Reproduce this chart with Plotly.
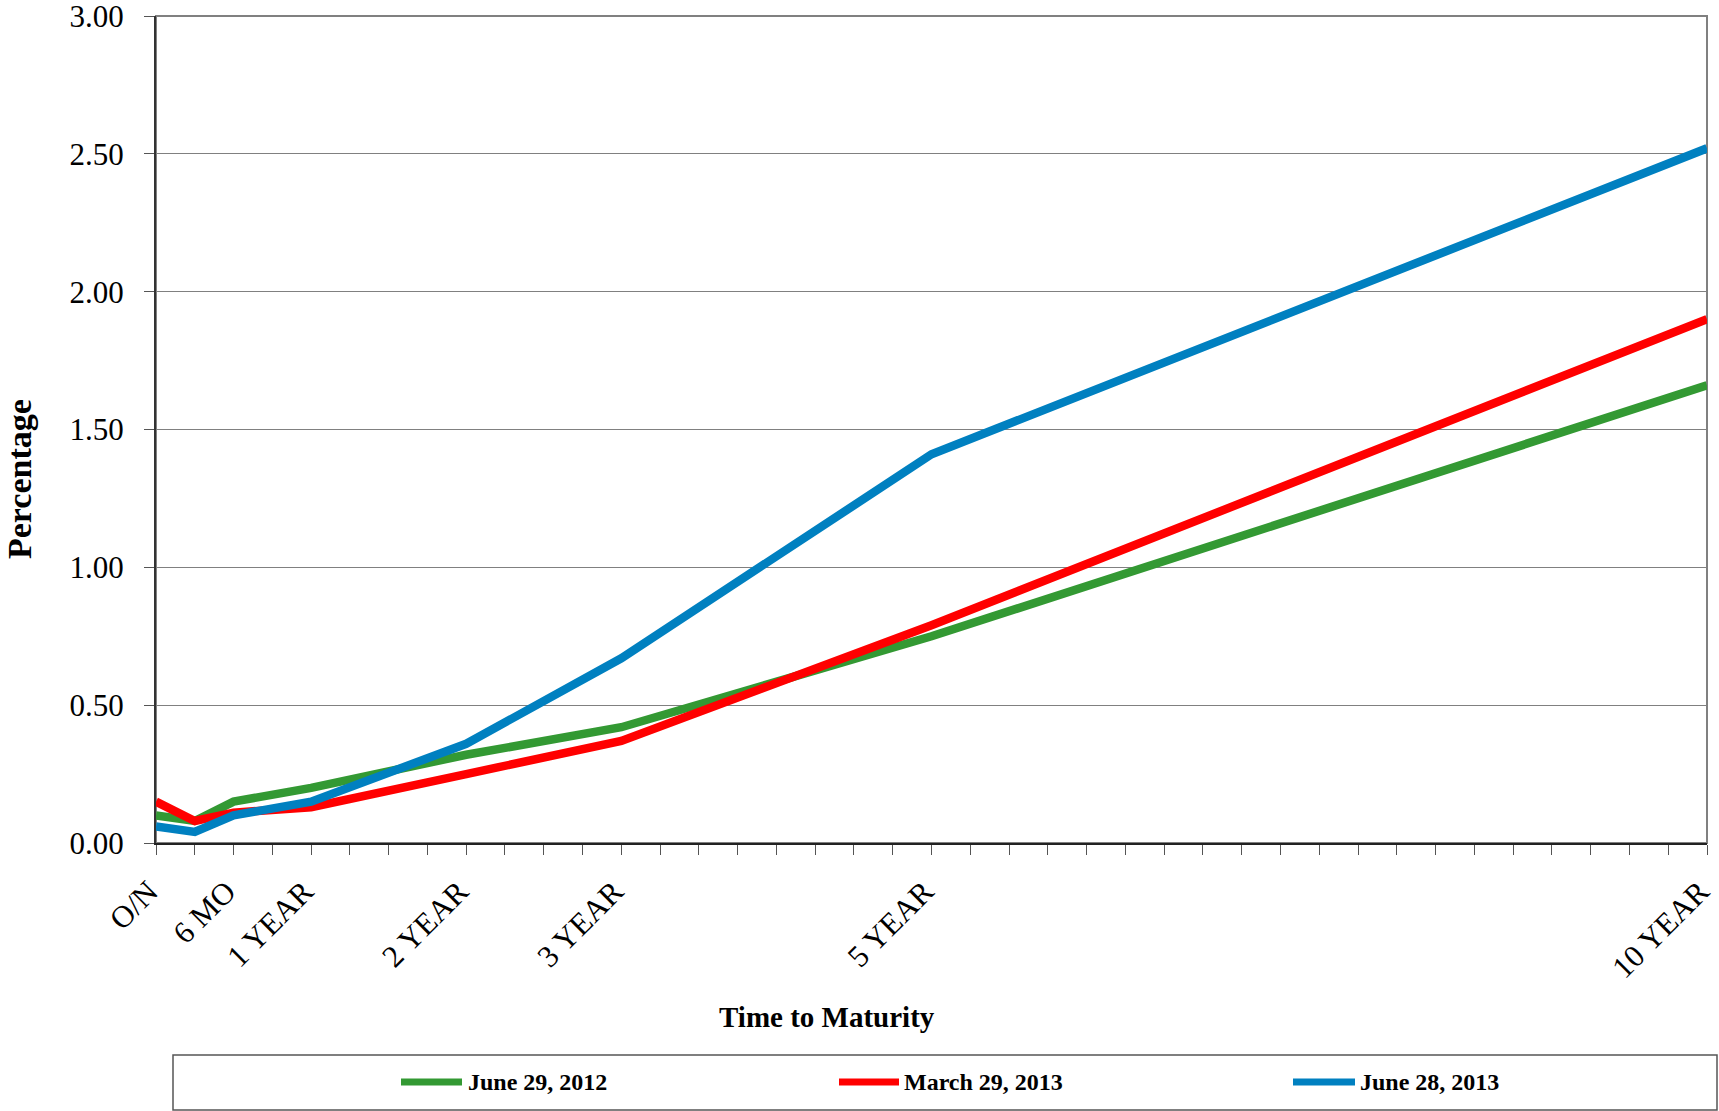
import plotly.graph_objects as go

# Maturity positions in years (O/N, 3 MO, 6 MO, 1Y, 2Y, 3Y, 5Y, 10Y)
maturity_years = [0, 0.25, 0.5, 1, 2, 3, 5, 10]

series_names = ["June 29, 2012", "March 29, 2013", "June 28, 2013"]
june_2012 = [0.10, 0.08, 0.15, 0.20, 0.32, 0.42, 0.75, 1.66]
march_2013 = [0.15, 0.08, 0.11, 0.13, 0.25, 0.37, 0.79, 1.90]
june_2013 = [0.06, 0.04, 0.10, 0.15, 0.36, 0.67, 1.41, 2.52]
series_colors = ["#339933", "#FF0000", "#0080C0"]

# Labelled maturities on the x axis
label_years = [0, 0.5, 1, 2, 3, 5, 10]
label_texts = ["O/N", "6 MO", "1 YEAR", "2 YEAR", "3 YEAR", "5 YEAR", "10 YEAR"]

y_ticks = [0, 0.5, 1.0, 1.5, 2.0, 2.5, 3.0]

FONT = "Liberation Serif, Times New Roman, serif"
W, H = 1719, 1111
L, R, T, B = 156, 12, 16, 268
PW, PH = W - L - R, H - T - B


def px_x(px):
    return (px - L) / PW


def px_y(py):
    return (H - B - py) / PH


fig = go.Figure()
for name, vals, col in zip(series_names, [june_2012, march_2013, june_2013], series_colors):
    fig.add_trace(go.Scatter(
        x=maturity_years, y=vals, mode="lines", name=name,
        line=dict(color=col, width=8.5), showlegend=False,
    ))

# Quarter-year tick marks, text only on the labelled maturities
quarter_ticks = [i * 0.25 for i in range(41)]
quarter_text = []
for q in quarter_ticks:
    if q in label_years:
        quarter_text.append(label_texts[label_years.index(q)])
    else:
        quarter_text.append("")

fig.update_xaxes(
    range=[0, 10], tickmode="array", tickvals=quarter_ticks, ticktext=quarter_text,
    tickangle=-45, ticks="outside", ticklen=10, tickwidth=1, tickcolor="#555555",
    showgrid=False, zeroline=False, showline=True, linecolor="#222222", linewidth=2,
    tickfont=dict(family=FONT, size=31, color="black"), ticklabelstandoff=6,
    ticklabelshift=-7, ticklabeloverflow="allow", automargin=False,
)
fig.update_yaxes(
    range=[0, 3], tickmode="array", tickvals=y_ticks,
    ticktext=[f"{v:.2f}" for v in y_ticks],
    ticks="outside", ticklen=10, tickwidth=1, tickcolor="#555555",
    showgrid=True, gridcolor="#808080", gridwidth=1, zeroline=False,
    showline=True, linecolor="#333333", linewidth=2,
    tickfont=dict(family=FONT, size=31, color="black"), ticklabelstandoff=14,
    ticklabeloverflow="allow", automargin=False,
)

shapes = [
    # plot-area frame (top and right edges in grey)
    dict(type="rect", xref="paper", yref="paper", x0=0, x1=1, y0=0, y1=1,
         line=dict(color="#808080", width=2), layer="below"),
    # legend box
    dict(type="rect", xref="paper", yref="paper",
         x0=px_x(173), x1=px_x(1717), y0=px_y(1110), y1=px_y(1055),
         line=dict(color="#555555", width=1.5)),
]
annotations = [
    dict(text="<b>Percentage</b>", xref="paper", yref="paper",
         x=px_x(20), y=px_y(479), textangle=-90, showarrow=False,
         xanchor="center", yanchor="middle",
         font=dict(family=FONT, size=34, color="black")),
    dict(text="<b>Time to Maturity</b>", xref="paper", yref="paper",
         x=px_x(827), y=px_y(1017), showarrow=False,
         xanchor="center", yanchor="middle",
         font=dict(family=FONT, size=29, color="black")),
]

# Legend: sample stroke + bold label for each series
legend_items = [(401, 462, 466), (839, 899, 902), (1293, 1355, 1358)]
legend_y = px_y(1082)
for (x0, x1, tx), name, col in zip(legend_items, series_names, series_colors):
    shapes.append(dict(type="line", xref="paper", yref="paper",
                       x0=px_x(x0), x1=px_x(x1), y0=legend_y, y1=legend_y,
                       line=dict(color=col, width=7)))
    annotations.append(dict(text=f"<b>{name}</b>", xref="paper", yref="paper",
                            x=px_x(tx), y=legend_y, showarrow=False,
                            xanchor="left", yanchor="middle",
                            font=dict(family=FONT, size=24, color="black")))

fig.update_layout(
    width=W, height=H,
    margin=dict(l=L, r=R, t=T, b=B, autoexpand=False),
    paper_bgcolor="white", plot_bgcolor="white",
    shapes=shapes, annotations=annotations,
    showlegend=False,
)

fig.write_html("out.html")
